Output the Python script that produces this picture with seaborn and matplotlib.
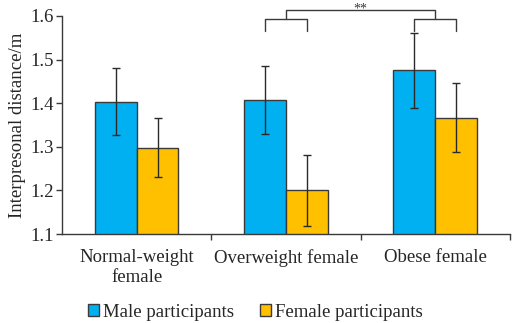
import numpy as np
import pandas as pd
import matplotlib
matplotlib.use('Agg')
import matplotlib.pyplot as plt
import seaborn as sns

groups = ['Normal-weight\nfemale', 'Overweight female', 'Obese female']
male_mean = [1.403, 1.408, 1.475]
female_mean = [1.298, 1.200, 1.367]
male_err = [0.077, 0.078, 0.087]
female_err = [0.068, 0.081, 0.080]
series = ['Male participants', 'Female participants']
colors = ['#00B0F0', '#FFC000']

df = pd.DataFrame({
    'group': groups * 2,
    'value': male_mean + female_mean,
    'err': male_err + female_err,
    'sex': [series[0]] * 3 + [series[1]] * 3,
})

sns.set_style('white')
plt.rcParams['font.family'] = ['Liberation Serif', 'DejaVu Serif']

fig = plt.figure(figsize=(5.12, 3.23), dpi=100)
ax = fig.add_axes([0.121, 0.2755, 0.875, 0.675])

sns.barplot(data=df, x='group', y='value', hue='sex', palette=colors,
            saturation=1, width=0.56, gap=0, edgecolor='#3a3a3a',
            linewidth=1.0, errorbar=None, ax=ax)

# error bars from each hue container
for cont, errs in zip(ax.containers, [male_err, female_err]):
    xs = [b.get_x() + b.get_width() / 2 for b in cont]
    ys = [b.get_height() for b in cont]
    ax.errorbar(xs, ys, yerr=errs, fmt='none', ecolor='#2a2a2a',
                elinewidth=1.0, capsize=3, capthick=1.0)

ax.set_ylim(1.1, 1.6)
ax.set_xlim(-0.5, 2.5)
ax.set_yticks([1.1, 1.2, 1.3, 1.4, 1.5, 1.6])
ax.set_yticklabels(['1.1', '1.2', '1.3', '1.4', '1.5', '1.6'])
ax.set_xticks([0, 1, 2])
ax.set_xticklabels(groups, linespacing=1.2)
ax.set_xticks([0.5, 1.5, 2.5], minor=True)
ax.tick_params(axis='x', which='major', length=0, labelsize=13.5, pad=11)
ax.tick_params(axis='x', which='minor', length=4, width=1, color='#3a3a3a',
               direction='out', bottom=True)
ax.tick_params(axis='y', length=4, width=1, color='#3a3a3a', direction='out',
               left=True, labelsize=13.5, pad=2)
ax.set_xlabel('')
ax.set_ylabel('Interpresonal distance/m', fontsize=13.5, labelpad=3)

for s in ['top', 'right']:
    ax.spines[s].set_visible(False)
for s in ['left', 'bottom']:
    ax.spines[s].set_color('#3a3a3a')
    ax.spines[s].set_linewidth(1.0)

# significance brackets
bars_m = ax.containers[0]
bars_f = ax.containers[1]
lk = dict(color='#3a3a3a', lw=1.0, clip_on=False)
for i in [1, 2]:
    xm = bars_m[i].get_x() + bars_m[i].get_width() / 2
    xf = bars_f[i].get_x() + bars_f[i].get_width() / 2
    ax.plot([xm, xm, xf, xf], [1.5656, 1.592, 1.592, 1.5656], **lk)
ax.plot([1, 1, 2, 2], [1.592, 1.614, 1.614, 1.592], **lk)
ax.text(1.5, 1.608, '**', ha='center', va='baseline', fontsize=10,
        color='#3a3a3a')

leg = ax.legend(loc='center', bbox_to_anchor=(0.432, -0.358), ncol=2,
                frameon=False, prop={'family': 'Liberation Serif', 'size': 13.5},
                handlelength=0.6, handleheight=0.6, handletextpad=0.2,
                columnspacing=1.4, borderaxespad=0)

fig.savefig('out.png', dpi=100)
